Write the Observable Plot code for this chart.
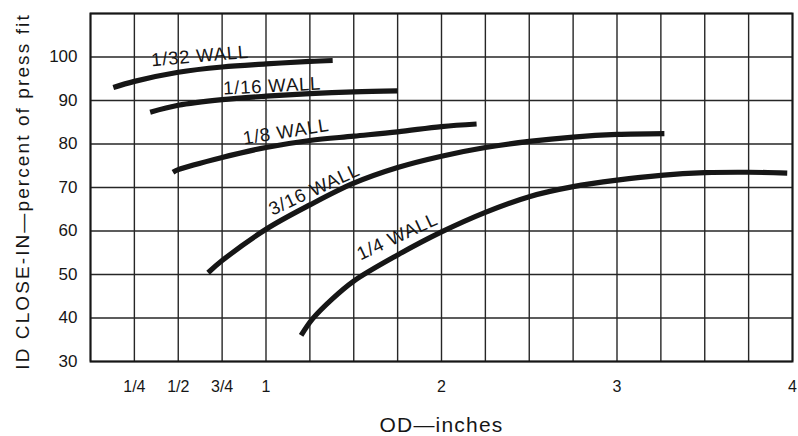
<!DOCTYPE html>
<html><head><meta charset="utf-8">
<script src="https://cdn.jsdelivr.net/npm/d3@7"></script>
<script src="https://cdn.jsdelivr.net/npm/@observablehq/plot@0.6"></script>
<style>
body{margin:0;background:#fff}
svg{display:block}
</style>
</head><body><div id="chart"></div>
<script>
// Series: OD (inches) vs ID close-in (% of press fit)
const od32 = [0.13, 0.25, 0.5, 0.75, 1.0, 1.25, 1.38];
const pct32 = [93.0, 94.4, 96.5, 97.7, 98.4, 99.0, 99.2];
const od16 = [0.34, 0.5, 0.75, 1.0, 1.25, 1.5, 1.75];
const pct16 = [87.3, 88.9, 90.2, 91.0, 91.6, 92.0, 92.2];
const od8 = [0.47, 0.5, 0.75, 1.0, 1.25, 1.5, 1.75, 2.0, 2.2];
const pct8 = [73.5, 74.1, 76.9, 79.2, 80.8, 81.8, 82.8, 84.0, 84.6];
const od316 = [0.67, 0.75, 1.0, 1.25, 1.5, 1.75, 2.0, 2.25, 2.5, 2.75, 3.0, 3.27];
const pct316 = [50.4, 53.2, 60.4, 66.0, 71.0, 74.6, 77.2, 79.2, 80.6, 81.6, 82.2, 82.4];
const od4 = [1.2, 1.265, 1.375, 1.5, 1.75, 2.0, 2.25, 2.5, 2.75, 3.0, 3.25, 3.5, 3.75, 3.97];
const pct4 = [36.0, 39.8, 44.3, 48.5, 54.5, 59.8, 64.3, 67.9, 70.2, 71.7, 72.8, 73.4, 73.5, 73.3];

const wallNames = ["1/32 WALL", "1/16 WALL", "1/8 WALL", "3/16 WALL", "1/4 WALL"];
const labelOD = [0.624, 1.035, 1.114, 1.276, 1.748];
const labelPct = [100.2, 93.3, 82.8, 69.5, 58.7];
const labelAngle = [-5, -3, -9, -25, -25];

const xTicks = [0.25, 0.5, 0.75, 1, 2, 3, 4];
const xTickLabels = ["1/4", "1/2", "3/4", "1", "2", "3", "4"];
const yTicks = [30, 40, 50, 60, 70, 80, 90, 100];
const xGrid = d3.range(0, 16.5, 1).map(i => i / 4);
const yGrid = d3.range(30, 111, 10);

const yLabel = "ID CLOSE-IN\u2014percent of press fit";
const xLabel = "OD\u2014inches";

const seriesOD = [od32, od16, od8, od316, od4];
const seriesPct = [pct32, pct16, pct8, pct316, pct4];
const rows = [];
wallNames.forEach((w, k) => seriesOD[k].forEach((x, i) => rows.push({wall: w, od: x, pct: seriesPct[k][i]})));
const labels = wallNames.map((w, k) => ({text: w, od: labelOD[k], pct: labelPct[k], angle: labelAngle[k]}));

const ink = "#161616";
const chart = Plot.plot({
  width: 798,
  height: 436,
  marginLeft: 90,
  marginRight: 6,
  marginTop: 13,
  marginBottom: 75,
  style: {fontFamily: "'Liberation Sans', Arial, Helvetica, sans-serif", color: ink, background: "#fff"},
  x: {domain: [0, 4]},
  y: {domain: [30, 110]},
  marks: [
    Plot.gridX(xGrid, {stroke: "#262626", strokeOpacity: 1, strokeWidth: 1.4}),
    Plot.gridY(yGrid, {stroke: "#262626", strokeOpacity: 1, strokeWidth: 1.4}),
    Plot.frame({stroke: ink, strokeWidth: 2}),
    Plot.line(rows, {x: "od", y: "pct", z: "wall", stroke: ink, strokeWidth: 5.2, curve: "catmull-rom", strokeLinecap: "butt"}),
    Plot.text(labels, {x: "od", y: "pct", text: "text", rotate: "angle", fontSize: 18.5, fill: ink}),
    Plot.axisX(xTicks, {tickSize: 0, tickPadding: 19, fontSize: 16, label: null,
      tickFormat: d => xTickLabels[xTicks.indexOf(d)]}),
    Plot.axisY(yTicks, {tickSize: 0, tickPadding: 13, fontSize: 17, label: null}),
    Plot.text([yLabel], {frameAnchor: "left", textAnchor: "middle", dx: -68, dy: 4, rotate: -90, fontSize: 19, fill: ink}),
    Plot.text([xLabel], {frameAnchor: "bottom", lineAnchor: "middle", dy: 64, fontSize: 21, fill: ink})
  ]
});
d3.select(chart).selectAll("text").each(function() {
  const t = this.textContent;
  if (t === yLabel) this.setAttribute("letter-spacing", "2.1");
  else if (t === xLabel) this.setAttribute("letter-spacing", "1.2");
  else if (wallNames.includes(t)) this.setAttribute("letter-spacing", "0.8");
});
document.getElementById("chart").appendChild(chart);
</script>
</body></html>
